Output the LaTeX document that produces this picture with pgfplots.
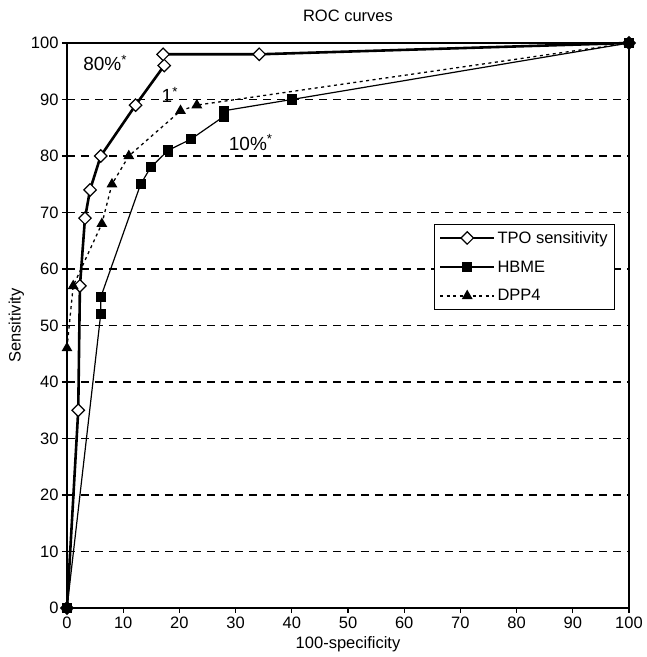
\documentclass[border=0pt]{standalone}
\usepackage{fontspec}
\setmainfont{Liberation Sans}
\usepackage{pgfplots}
\pgfplotsset{compat=1.18}

\begin{document}
\begin{tikzpicture}
\begin{axis}[
    name=ax,
    scale only axis,
    width=562pt, height=565pt,
    xmin=0, xmax=100, ymin=0, ymax=100,
    xtick={0,10,...,100}, ytick={0,10,...,100},
    tick align=outside, tick pos=left,
    major tick length=5pt,
    every tick/.style={black, line width=1.2pt},
    axis line style={line width=1.6pt},
    ymajorgrids,
    grid style={black, line width=1.2pt, dash pattern=on 8pt off 6pt},
    font=\fontsize{16.5}{19}\selectfont,
    /pgf/number format/assume math mode=true,
    title={ROC curves},
    title style={yshift=12pt},
    xlabel={100-specificity},
    ylabel={Sensitivity},
    xlabel style={yshift=-1pt},
    legend style={at={(axis cs:97.5,68)}, anchor=north east, draw=black, line width=0.8pt,
        font=\fontsize{16.5}{19}\selectfont, row sep=12pt, inner sep=5pt, fill=white},
    legend cell align=left,
    legend image code/.code={\draw[mark repeat=2,mark phase=2,#1] plot coordinates {(0pt,0pt) (27pt,0pt) (54pt,0pt)};},
    clip=false,
]
\addplot[black, line width=2.6pt, mark=square*, mark size=4.4pt,
    mark options={rotate=45, fill=white, line width=1.2pt, solid}]
    coordinates {(0,0)(2,35)(2.3,57)(3.2,69)(4.1,74)(6,80)(12.2,89)(17.3,96)(17.1,98)(34.2,98)(100,100)};
\addlegendentry{TPO sensitivity}
\addplot[black, line width=1.2pt, mark=square*, mark size=4.5pt, mark options={solid}]
    coordinates {(0,0)(6,52)(6,55)(13.1,75)(14.9,78)(18,81)(22.1,83)(27.9,87)(27.9,88)(40,90)(100,100)};
\addlegendentry{HBME}
\addplot[black, line width=1.3pt, dash pattern=on 3pt off 3.5pt, mark=triangle*, mark size=5pt, mark options={solid}]
    coordinates {(0,0)(0,46)(1.1,57)(6.2,68)(8,75)(11,80)(20.2,88)(23.1,89)(100,100)};
\addlegendentry{DPP4}
\node[font=\fontsize{19}{21}\selectfont] at (axis cs:6.8,96.4) {80\%\textsuperscript{*}};
\node[font=\fontsize{19}{21}\selectfont] at (axis cs:18.3,90.8) {1\textsuperscript{*}};
\node[font=\fontsize{19}{21}\selectfont] at (axis cs:32.7,82.4) {10\%\textsuperscript{*}};
\end{axis}
\useasboundingbox ([shift={(-67pt,-49pt)}]ax.south west) rectangle ([shift={(14pt,43pt)}]ax.north east);
\end{tikzpicture}
\end{document}
